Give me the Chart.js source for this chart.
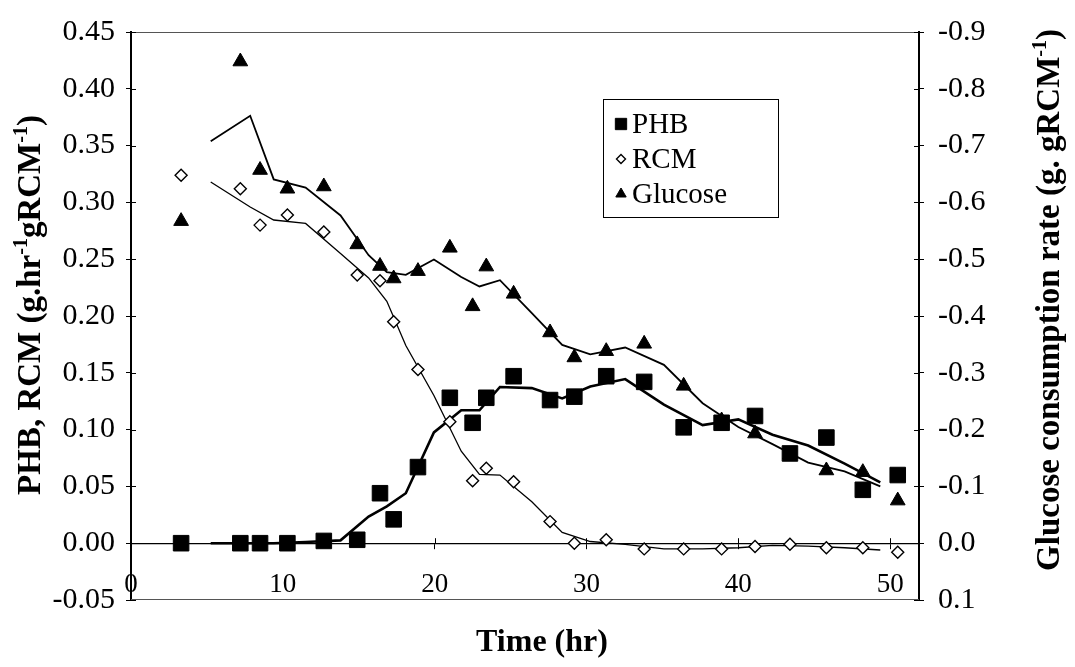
<!DOCTYPE html>
<html>
<head>
<meta charset="utf-8">
<script src="https://cdn.jsdelivr.net/npm/chart.js@4.4.1/dist/chart.umd.min.js"></script>
<style>
  html, body { margin: 0; padding: 0; background: #fff; }
  canvas { display: block; }
</style>
</head>
<body>
<canvas id="chart" width="1075" height="667"></canvas>
<script>
// Sampling times (hr)
const TIME_HR = [3.3, 7.2, 8.5, 10.3, 12.7, 14.9, 16.4, 17.3, 18.9, 21.0, 22.5, 23.4,
                 25.2, 27.6, 29.2, 31.3, 33.8, 36.4, 38.9, 41.1, 43.4, 45.8, 48.2, 50.5];

// Specific rates, left axis (g.hr-1 gRCM-1)
const PHB = [0, 0, 0, 0, 0.002, 0.003, 0.044, 0.021, 0.067, 0.128, 0.106, 0.128,
             0.147, 0.126, 0.129, 0.147, 0.142, 0.102, 0.106, 0.112, 0.079, 0.093, 0.047, 0.060];
const RCM = [0.324, 0.312, 0.280, 0.289, 0.274, 0.236, 0.231, 0.195, 0.153, 0.107, 0.055, 0.066,
             0.054, 0.019, 0.000, 0.003, -0.005, -0.005, -0.005, -0.003, -0.001, -0.004, -0.004, -0.008];

// Glucose consumption rate, right axis (g. gRCM-1)
const GLUCOSE = [-0.567, -0.848, -0.657, -0.624, -0.628, -0.526, -0.488, -0.466, -0.479, -0.520, -0.417, -0.487,
                 -0.439, -0.371, -0.327, -0.338, -0.351, -0.277, -0.216, -0.193, -0.156, -0.128, -0.125, -0.075];

// Two-point moving-average trend lines
const TREND_TIME = [5.25, 7.85, 9.4, 11.5, 13.8, 15.65, 16.85, 18.1, 19.95, 21.75, 22.95, 24.3,
                    26.4, 28.4, 30.25, 32.55, 35.1, 37.65, 40.0, 42.25, 44.6, 47.0, 49.35];
const PHB_TREND = [0, 0, 0, 0.001, 0.0025, 0.0235, 0.0325, 0.044, 0.0975, 0.117, 0.117, 0.1375,
                   0.1365, 0.1275, 0.138, 0.1445, 0.122, 0.104, 0.109, 0.0955, 0.086, 0.070, 0.0535];
const RCM_TREND = [0.318, 0.296, 0.2845, 0.2815, 0.255, 0.2335, 0.213, 0.174, 0.130, 0.081, 0.0605, 0.060,
                   0.0365, 0.0095, 0.0015, -0.001, -0.005, -0.005, -0.004, -0.002, -0.0025, -0.004, -0.006];
const GLUCOSE_TREND = [-0.7075, -0.7525, -0.6405, -0.626, -0.577, -0.507, -0.477, -0.4725, -0.4995, -0.4685, -0.452, -0.463,
                       -0.405, -0.349, -0.3325, -0.3445, -0.314, -0.2465, -0.2045, -0.1745, -0.142, -0.1265, -0.100];

// Axis ticks
const X_TICKS = [0, 10, 20, 30, 40, 50];
const LEFT_TICKS = [-0.05, 0, 0.05, 0.10, 0.15, 0.20, 0.25, 0.30, 0.35, 0.40, 0.45];
const RIGHT_TICKS = [-0.9, -0.8, -0.7, -0.6, -0.5, -0.4, -0.3, -0.2, -0.1, 0, 0.1];

const SERIF = '"Liberation Serif", "Times New Roman", Times, serif';
const X_TICK_FONT = { family: SERIF, size: 27 };
const Y_TICK_FONT = { family: SERIF, size: 30 };
const TICK_LEN = 5;

const pairs = (xs, ys) => xs.map((x, i) => ({ x: x, y: ys[i] }));
const setTicks = list => scale => { scale.ticks = list.map(v => ({ value: v })); };

// Tick marks that cross the axis lines, plus the thin top/bottom frame
const frameAndTicks = {
  id: 'frameAndTicks',
  beforeDatasetsDraw(chart) {
    const { ctx, chartArea: a, scales } = chart;
    const seg = (x1, y1, x2, y2) => { ctx.beginPath(); ctx.moveTo(x1, y1); ctx.lineTo(x2, y2); ctx.stroke(); };
    ctx.save();
    ctx.strokeStyle = '#555';
    ctx.lineWidth = 1;
    seg(a.left, a.top + 0.5, a.right, a.top + 0.5);
    seg(a.left, a.bottom - 0.5, a.right, a.bottom - 0.5);
    ctx.strokeStyle = '#000';
    scales.y.ticks.forEach(t => {
      const py = Math.round(scales.y.getPixelForValue(t.value)) + 0.5;
      seg(a.left, py, a.left + TICK_LEN, py);
    });
    scales.y1.ticks.forEach(t => {
      const py = Math.round(scales.y1.getPixelForValue(t.value)) + 0.5;
      seg(a.right - TICK_LEN, py, a.right, py);
    });
    const y0 = scales.y.getPixelForValue(0);
    scales.x.ticks.forEach(t => {
      if (t.value === 0) return;
      const px = Math.round(scales.x.getPixelForValue(t.value)) + 0.5;
      seg(px, y0 - TICK_LEN, px, y0);
    });
    ctx.restore();
  }
};

// Draws a run of text with superscript pieces, rotated to read bottom-to-top
function drawRotatedRich(ctx, parts, cx, cy, size) {
  const base = 'bold ' + size + 'px ' + SERIF;
  const sup = 'bold ' + Math.round(size * 0.62) + 'px ' + SERIF;
  let total = 0;
  parts.forEach(p => { ctx.font = p.sup ? sup : base; p.w = ctx.measureText(p.t).width; total += p.w; });
  ctx.save();
  ctx.translate(cx, cy);
  ctx.rotate(-Math.PI / 2);
  ctx.fillStyle = '#000';
  ctx.textAlign = 'left';
  ctx.textBaseline = 'alphabetic';
  let x = -total / 2;
  const baseY = size * 0.33;
  parts.forEach(p => {
    ctx.font = p.sup ? sup : base;
    ctx.fillText(p.t, x, p.sup ? baseY - size * 0.38 : baseY);
    x += p.w;
  });
  ctx.restore();
}

const titlesAndLegend = {
  id: 'titlesAndLegend',
  afterDraw(chart) {
    const { ctx } = chart;
    // axis titles
    drawRotatedRich(ctx, [
      { t: 'PHB, RCM (g.hr' }, { t: '-1', sup: true }, { t: 'gRCM' }, { t: '-1', sup: true }, { t: ')' }
    ], 29, 305, 33);
    drawRotatedRich(ctx, [
      { t: 'Glucose consumption rate (g. gRCM' }, { t: '-1', sup: true }, { t: ')' }
    ], 1048, 300, 33);
    ctx.save();
    ctx.font = 'bold 32px ' + SERIF;
    ctx.fillStyle = '#000';
    ctx.textAlign = 'center';
    ctx.textBaseline = 'middle';
    ctx.fillText('Time (hr)', 542, 643);
    ctx.restore();

    // legend box
    const box = { x: 603, y: 99, w: 175, h: 118 };
    ctx.save();
    ctx.fillStyle = '#fff';
    ctx.fillRect(box.x, box.y, box.w, box.h);
    ctx.strokeStyle = '#000';
    ctx.lineWidth = 1;
    ctx.strokeRect(box.x + 0.5, box.y + 0.5, box.w, box.h);
    const entries = chart.data.datasets.filter(d => d.legendRow !== undefined);
    ctx.font = '29px ' + SERIF;
    ctx.textAlign = 'left';
    ctx.textBaseline = 'middle';
    entries.forEach(d => {
      const cy = box.y + 25 + d.legendRow * 35;
      ctx.fillStyle = d.backgroundColor;
      ctx.strokeStyle = d.borderColor;
      ctx.lineWidth = d.borderWidth;
      Chart.helpers.drawPoint(ctx, {
        pointStyle: d.pointStyle, radius: d.legendRadius, rotation: 0, borderWidth: d.borderWidth
      }, 621, cy);
      ctx.fillStyle = '#000';
      ctx.fillText(d.label, 632, cy + 1);
    });
    ctx.restore();
  }
};

new Chart(document.getElementById('chart'), {
  data: {
    datasets: [
      { type: 'line', label: 'PHB trend', data: pairs(TREND_TIME, PHB_TREND), yAxisID: 'y',
        borderColor: '#000', borderWidth: 2.6, pointRadius: 0, fill: false, tension: 0, order: 10 },
      { type: 'line', label: 'RCM trend', data: pairs(TREND_TIME, RCM_TREND), yAxisID: 'y',
        borderColor: '#000', borderWidth: 1.3, pointRadius: 0, fill: false, tension: 0, order: 11 },
      { type: 'line', label: 'Glucose trend', data: pairs(TREND_TIME, GLUCOSE_TREND), yAxisID: 'y1',
        borderColor: '#000', borderWidth: 1.8, pointRadius: 0, fill: false, tension: 0, order: 12 },
      { type: 'scatter', label: 'Glucose', data: pairs(TIME_HR, GLUCOSE), yAxisID: 'y1',
        pointStyle: 'triangle', pointRadius: 8.5, backgroundColor: '#000', borderColor: '#000', borderWidth: 1,
        legendRow: 2, legendRadius: 6, order: 3 },
      { type: 'scatter', label: 'RCM', data: pairs(TIME_HR, RCM), yAxisID: 'y',
        pointStyle: 'rectRot', pointRadius: 6, backgroundColor: '#fff', borderColor: '#000', borderWidth: 1.4,
        legendRow: 1, legendRadius: 4.5, order: 2 },
      { type: 'scatter', label: 'PHB', data: pairs(TIME_HR, PHB), yAxisID: 'y',
        pointStyle: 'rect', pointRadius: 11, backgroundColor: '#000', borderColor: '#000', borderWidth: 1,
        legendRow: 0, legendRadius: 8, order: 1 }
    ]
  },
  options: {
    responsive: false,
    animation: false,
    devicePixelRatio: 1,
    layout: { padding: { top: 24, bottom: 67, left: 0, right: 0 } },
    plugins: { legend: { display: false }, tooltip: { enabled: false } },
    scales: {
      x: {
        type: 'linear', position: { y: 0 }, min: 0, max: 51.9,
        afterBuildTicks: setTicks(X_TICKS),
        border: { display: true, color: '#000', width: 1.2 },
        grid: { display: true, drawOnChartArea: false, drawTicks: true, tickLength: TICK_LEN, color: '#000', lineWidth: 1 },
        ticks: { font: X_TICK_FONT, color: '#000', padding: 21, maxRotation: 0, autoSkip: false, callback: v => String(v) }
      },
      y: {
        type: 'linear', position: 'left', min: -0.05, max: 0.45,
        afterBuildTicks: setTicks(LEFT_TICKS),
        afterFit: s => { s.width = 131; },
        border: { display: true, color: '#000', width: 2 },
        grid: { display: true, drawOnChartArea: false, drawTicks: true, tickLength: TICK_LEN, color: '#000', lineWidth: 1 },
        ticks: { font: Y_TICK_FONT, color: '#000', padding: 11, autoSkip: false, callback: v => v.toFixed(2) }
      },
      y1: {
        type: 'linear', position: 'right', reverse: true, min: -0.9, max: 0.1,
        afterBuildTicks: setTicks(RIGHT_TICKS),
        afterFit: s => { s.width = 156; },
        border: { display: true, color: '#000', width: 2 },
        grid: { display: true, drawOnChartArea: false, drawTicks: true, tickLength: TICK_LEN, color: '#000', lineWidth: 1 },
        ticks: { font: Y_TICK_FONT, color: '#000', padding: 14, autoSkip: false,
                 callback: v => (Math.abs(v) < 1e-9 ? 0 : v).toFixed(1) }
      }
    }
  },
  plugins: [frameAndTicks, titlesAndLegend]
});
</script>
</body>
</html>
